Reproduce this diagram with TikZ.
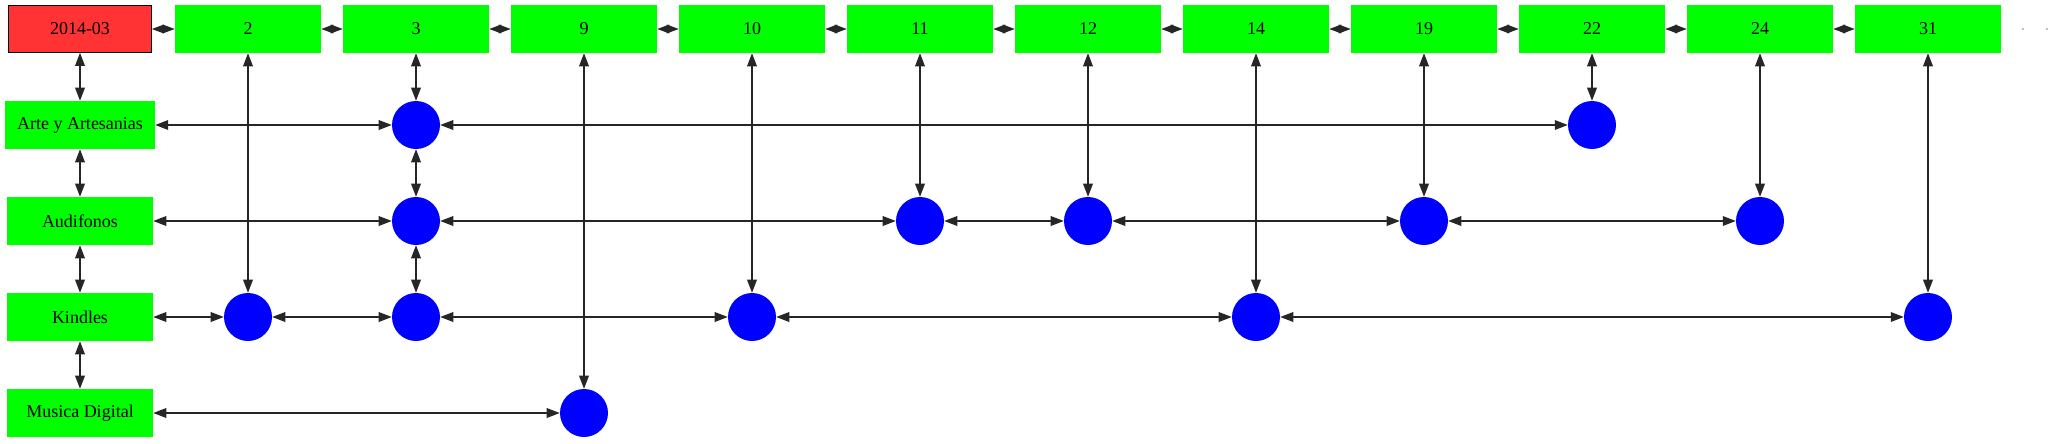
\documentclass[tikz,border=0pt]{standalone}
\usepackage{fontspec}
\setmainfont{Liberation Serif}
\usetikzlibrary{arrows.meta}
\definecolor{gvgreen}{RGB}{0,255,0}
\definecolor{gvred}{RGB}{255,51,51}
\definecolor{gvblue}{RGB}{0,0,255}
\tikzset{
  box/.style={rectangle, fill=gvgreen, minimum width=109.5pt, minimum height=36pt, inner xsep=9pt, inner ysep=0pt, font=\fontsize{13.5}{16}\selectfont},
  datebox/.style={box, fill=gvred, draw=black, line width=0.8pt, minimum width=107pt, minimum height=35pt},
  dotc/.style={circle, fill=gvblue, minimum size=36pt, inner sep=0pt},
  tinydot/.style={circle, fill=gray, minimum size=1.2pt, inner sep=0pt},
  link/.style={line width=0.8pt, draw=black!85, {Triangle[length=9.75pt,width=7.3pt]}-{Triangle[length=9.75pt,width=7.3pt]}},
  toplink/.style={line width=0.8pt, draw=black!85, {Triangle[length=9pt,width=6.5pt]}-{Triangle[length=9pt,width=6.5pt]}},
}
\begin{document}
\begin{tikzpicture}[x=0.75pt, y=-0.75pt]
\useasboundingbox (0,0) rectangle (2053,443);
% top row
\node[datebox] (d) at (80,29) {2014-03};
\node[box] (t2) at (248,29) {2};
\node[box] (t3) at (416,29) {3};
\node[box] (t9) at (584,29) {9};
\node[box] (t10) at (752,29) {10};
\node[box] (t11) at (920,29) {11};
\node[box] (t12) at (1088,29) {12};
\node[box] (t14) at (1256,29) {14};
\node[box] (t19) at (1424,29) {19};
\node[box] (t22) at (1592,29) {22};
\node[box] (t24) at (1760,29) {24};
\node[box] (t31) at (1928,29) {31};
\node[tinydot] (e1) at (2023,29) {};
\node[tinydot] (e2) at (2047,29) {};
% left column
\node[box] (ar) at (80,125) {Arte y Artesanias};
\node[box] (au) at (80,221) {Audifonos};
\node[box] (ki) at (80,317) {Kindles};
\node[box] (mu) at (80,413) {Musica Digital};
% circles
\node[dotc] (ar3) at (416,125) {};
\node[dotc] (ar22) at (1592,125) {};
\node[dotc] (au3) at (416,221) {};
\node[dotc] (au11) at (920,221) {};
\node[dotc] (au12) at (1088,221) {};
\node[dotc] (au19) at (1424,221) {};
\node[dotc] (au24) at (1760,221) {};
\node[dotc] (ki2) at (248,317) {};
\node[dotc] (ki3) at (416,317) {};
\node[dotc] (ki10) at (752,317) {};
\node[dotc] (ki14) at (1256,317) {};
\node[dotc] (ki31) at (1928,317) {};
\node[dotc] (mu9) at (584,413) {};
% top row links
\draw[toplink] (d) -- (t2);
\draw[toplink] (t2) -- (t3);
\draw[toplink] (t3) -- (t9);
\draw[toplink] (t9) -- (t10);
\draw[toplink] (t10) -- (t11);
\draw[toplink] (t11) -- (t12);
\draw[toplink] (t12) -- (t14);
\draw[toplink] (t14) -- (t19);
\draw[toplink] (t19) -- (t22);
\draw[toplink] (t22) -- (t24);
\draw[toplink] (t24) -- (t31);
% left column links
\draw[link] (d) -- (ar);
\draw[link] (ar) -- (au);
\draw[link] (au) -- (ki);
\draw[link] (ki) -- (mu);
% vertical links
\draw[link] (t2) -- (ki2);
\draw[link] (t3) -- (ar3);
\draw[link] (ar3) -- (au3);
\draw[link] (au3) -- (ki3);
\draw[link] (t9) -- (mu9);
\draw[link] (t10) -- (ki10);
\draw[link] (t11) -- (au11);
\draw[link] (t12) -- (au12);
\draw[link] (t14) -- (ki14);
\draw[link] (t19) -- (au19);
\draw[link] (t22) -- (ar22);
\draw[link] (t24) -- (au24);
\draw[link] (t31) -- (ki31);
% horizontal links
\draw[link] (ar) -- (ar3);
\draw[link] (ar3) -- (ar22);
\draw[link] (au) -- (au3);
\draw[link] (au3) -- (au11);
\draw[link] (au11) -- (au12);
\draw[link] (au12) -- (au19);
\draw[link] (au19) -- (au24);
\draw[link] (ki) -- (ki2);
\draw[link] (ki2) -- (ki3);
\draw[link] (ki3) -- (ki10);
\draw[link] (ki10) -- (ki14);
\draw[link] (ki14) -- (ki31);
\draw[link] (mu) -- (mu9);
\end{tikzpicture}
\end{document}
